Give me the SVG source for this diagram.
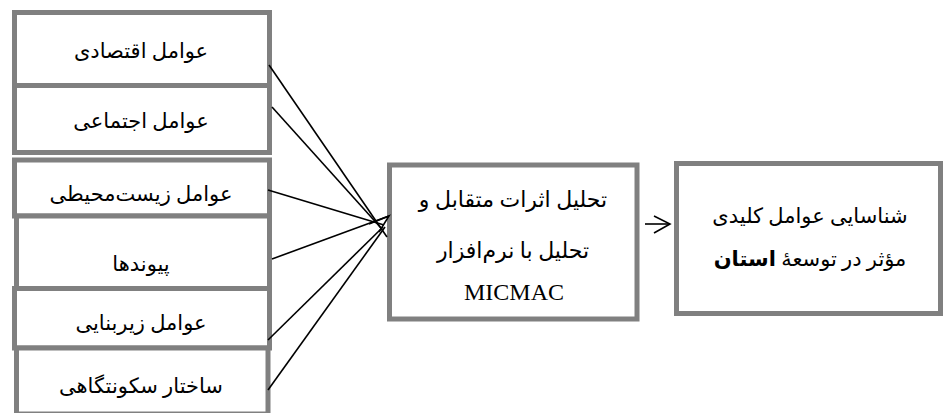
<svg xmlns="http://www.w3.org/2000/svg" width="943" height="413" viewBox="0 0 943 413">
<style>
.box{fill:#ffffff;stroke:#808080;stroke-width:5}
.t{font-family:"Liberation Serif","DejaVu Sans",serif;font-size:21px;fill:#000;text-anchor:middle}
.c line,.c polyline{stroke:#000;stroke-width:1.6;fill:none}
</style>
<rect width="943" height="413" fill="#fff"/>
<g id="n1"><rect class="box" x="14.5" y="12.5" width="255" height="73"/><text class="t" x="141" y="58" direction="rtl">عوامل اقتصادی</text></g>
<g id="n2"><rect class="box" x="14.5" y="85.5" width="255" height="67"/><text class="t" x="141" y="128" direction="rtl">عوامل اجتماعی</text></g>
<g id="n3"><rect class="box" x="14.5" y="160" width="255" height="56"/><text class="t" x="141" y="201" direction="rtl">عوامل زیست‌محیطی</text></g>
<g id="n4"><rect class="box" x="16.5" y="216" width="253" height="72.5"/><text class="t" x="141" y="271" direction="rtl">پیوندها</text></g>
<g id="n5"><rect class="box" x="14.5" y="288.5" width="255" height="59.5"/><text class="t" x="141" y="330" direction="rtl">عوامل زیربنایی</text></g>
<g id="n6"><rect class="box" x="16.5" y="348" width="251.5" height="66"/><text class="t" x="141" y="393" direction="rtl">ساختار سکونتگاهی</text></g>
<g id="n7"><rect class="box" x="389.5" y="165" width="247.5" height="154"/>
<text class="t" x="513" y="207" direction="rtl" style="font-size:22px">تحلیل اثرات متقابل و</text>
<text class="t" x="513" y="258" direction="rtl" style="font-size:22px">تحلیل با نرم‌افزار</text>
<text class="t" x="514" y="300" style="font-size:24px">MICMAC</text></g>
<g id="n8"><rect class="box" x="676.5" y="163.5" width="264" height="150"/>
<text class="t" x="810" y="223" direction="rtl">شناسایی عوامل کلیدی</text>
<text class="t" x="810" y="266" direction="rtl">مؤثر در توسعهٔ  <tspan font-weight="bold">استان</tspan></text></g>
<g id="connectors" class="c">
<line x1="269" y1="65" x2="387" y2="237"/>
<line x1="272" y1="107" x2="381" y2="228"/>
<line x1="268" y1="190" x2="384" y2="225"/>
<line x1="272" y1="259" x2="389" y2="216"/>
<line x1="268" y1="340" x2="383" y2="227"/>
<line x1="268" y1="390" x2="385" y2="227"/>
<polyline points="369,224 389,216 379,232"/>
<line x1="645" y1="224" x2="670" y2="224"/>
<polyline points="654,216 670,224 654,233"/>
</g>
</svg>
